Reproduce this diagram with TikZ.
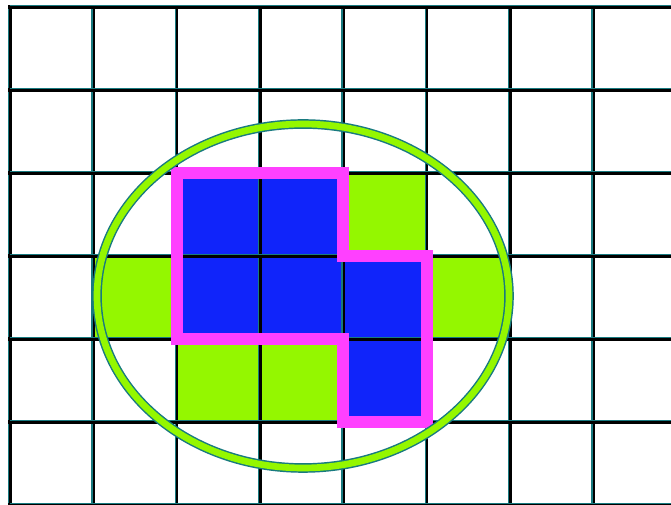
\documentclass[tikz,border=0pt]{standalone}
\usepackage{xcolor}
\definecolor{gridteal}{RGB}{24,122,128}
\definecolor{cellblue}{RGB}{16,36,250}
\definecolor{cellgreen}{RGB}{148,247,0}
\definecolor{rimpink}{RGB}{255,64,255}

\begin{document}
\begin{tikzpicture}[x=0.75pt,y=-0.75pt,
  gridblk/.style={draw=black,line width=2.6pt,line cap=rect},
  gridtl/.style={draw=gridteal,line width=1.1pt},
  bluecell/.style={fill=cellblue},
  greencell/.style={fill=cellgreen},
  rim/.style={draw=rimpink,line width=8.8pt,line join=miter},
  ring/.style={draw=gridteal,line width=1.1pt,double=cellgreen,double distance=5pt}]
\useasboundingbox (0,0) rectangle (671,505);
\clip (0,0) rectangle (671,505);
\fill[white] (0,0) rectangle (671,505);
\begin{scope}[shift={(10,7)},x=62.5pt,y=-62.25pt]
% coloured cells
\foreach \c/\r in {2/2,3/2,2/3,3/3,4/3,4/4}
  \fill[bluecell] (\c,\r) rectangle ++(1,1);
\foreach \c/\r in {4/2,1/3,5/3,2/4,3/4}
  \fill[greencell] (\c,\r) rectangle ++(1,1);
% grid
\foreach \i in {0,...,7} {
  \draw[gridblk] (\i,0) -- (\i,6.2);
  \draw[gridtl] (\i-0.016,0) -- (\i-0.016,6.2);
}
\foreach \j in {0,...,6} {
  \draw[gridblk] (0,\j) -- (8,\j);
  \draw[gridtl] (0,\j-0.016) -- (8,\j-0.016);
}
% outline of the blue region
\draw[rim] (2,2) -- (4,2) -- (4,3) -- (5,3) -- (5,5) -- (4,5) -- (4,4) -- (2,4) -- cycle;
\end{scope}
\draw[ring] (303,296) ellipse [x radius=154.5pt,y radius=129pt];
\end{tikzpicture}
\end{document}
